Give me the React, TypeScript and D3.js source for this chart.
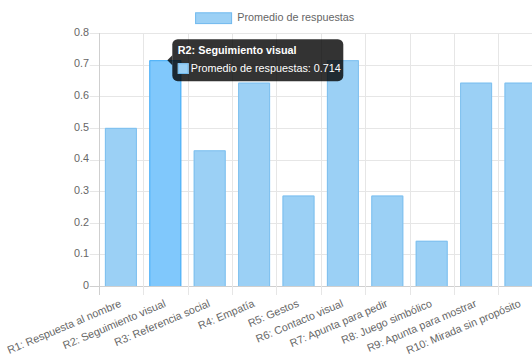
import React from "react";
import * as d3 from "d3";

const categories = [
  "R1: Respuesta al nombre",
  "R2: Seguimiento visual",
  "R3: Referencia social",
  "R4: Empatía",
  "R5: Gestos",
  "R6: Contacto visual",
  "R7: Apunta para pedir",
  "R8: Juego simbólico",
  "R9: Apunta para mostrar",
  "R10: Mirada sin propósito",
];
const values = [0.5, 0.714, 0.429, 0.643, 0.286, 0.714, 0.286, 0.143, 0.643, 0.643];
const yTicks = [0, 0.1, 0.2, 0.3, 0.4, 0.5, 0.6, 0.7, 0.8];
const seriesName = "Promedio de respuestas";
const hoverIndex = 1;

const W = 532;
const H = 356;
const FONT = "'Liberation Sans', Arial, Helvetica, sans-serif";
const FS = 10.8;

export default function App() {
  const left = 98.7;
  const step = 44.4;
  const right = left + step * categories.length;
  const top = 33;
  const bottom = 286;

  const x = d3.scaleBand<string>().domain(categories).range([left, right]).paddingInner(0).paddingOuter(0);
  const y = d3.scaleLinear().domain([0, 0.8]).range([bottom, top]);
  const barW = x.bandwidth() * 0.72;

  const hv = values[hoverIndex];
  const hx = (x(categories[hoverIndex]) as number) + x.bandwidth() / 2;
  const hy = y(hv);
  const tipX = hx + 2;
  const tbx = tipX + 5;
  const tby = hy - 21;

  return (
    <svg
      width={W}
      height={H}
      style={{ position: "absolute", left: 0, top: 0, background: "#fff" }}
      fontFamily={FONT}
    >
      {/* legend */}
      <rect x={195.6} y={12.8} width={36} height={FS} fill="#9bd0f5" stroke="#6fb9ee" strokeWidth={1} />
      <text x={237.2} y={18.6} fontSize={FS} fill="#666" dominantBaseline="middle">
        {seriesName}
      </text>

      {/* horizontal grid */}
      {yTicks.map((t) => (
        <g key={"y" + t}>
          <line
            x1={left - 9}
            x2={W + 20}
            y1={Math.round(y(t)) + 0.5}
            y2={Math.round(y(t)) + 0.5}
            stroke={t === 0 ? "#cfcfcf" : "#e6e6e6"}
            strokeWidth={1}
          />
          <text x={89} y={y(t)} fontSize={FS} fill="#666" textAnchor="end" dominantBaseline="middle">
            {String(t)}
          </text>
        </g>
      ))}

      {/* vertical grid */}
      {categories.map((c, i) => {
        const gx = Math.round(x(c) as number) + 0.5;
        return (
          <line
            key={"v" + i}
            x1={gx}
            x2={gx}
            y1={top}
            y2={bottom + 9}
            stroke={i === 0 ? "#cfcfcf" : "#e6e6e6"}
            strokeWidth={1}
          />
        );
      })}

      {/* bars */}
      {values.map((v, i) => {
        const bx = (x(categories[i]) as number) + (x.bandwidth() - barW) / 2;
        const by = y(v);
        const hover = i === hoverIndex;
        return (
          <g key={"b" + i}>
            <rect x={bx} y={by} width={barW} height={bottom - by} fill={hover ? "#80c8fc" : "#9bd0f5"} />
            <path
              d={`M${bx + 0.5},${bottom} V${by + 0.5} H${bx + barW - 0.5} V${bottom}`}
              fill="none"
              stroke={hover ? "#47aef7" : "#7fc0ef"}
              strokeWidth={1}
            />
          </g>
        );
      })}

      {/* x labels */}
      {categories.map((c, i) => {
        const cx = (x(c) as number) + x.bandwidth() / 2;
        return (
          <text
            key={"xl" + i}
            transform={`translate(${cx},${303.5}) rotate(-23)`}
            fontSize={FS}
            fill="#666"
            textAnchor="end"
            dominantBaseline="middle"
          >
            {c}
          </text>
        );
      })}

      {/* tooltip */}
      <g>
        <path
          d={`M${tbx},${hy - 5} L${tipX},${hy} L${tbx},${hy + 5} Z`}
          fill="rgba(0,0,0,0.8)"
        />
        <rect x={tbx} y={tby} width={171} height={42} rx={5.4} fill="rgba(0,0,0,0.8)" />
        <text x={tbx + 5.5} y={tby + 14.5} fontSize={FS} fontWeight="bold" fill="#fff">
          {categories[hoverIndex]}
        </text>
        <rect x={tbx + 5.5} y={tby + 24} width={FS} height={FS} fill="#fff" />
        <rect x={tbx + 6} y={tby + 24.5} width={FS - 1} height={FS - 1} fill="#9bd0f5" stroke="#6fb9ee" strokeWidth={1} />
        <text x={tbx + 18.5} y={tby + 33.3} fontSize={FS} fill="#fff">
          {`${seriesName}: ${d3.format(".3f")(hv)}`}
        </text>
      </g>
    </svg>
  );
}
